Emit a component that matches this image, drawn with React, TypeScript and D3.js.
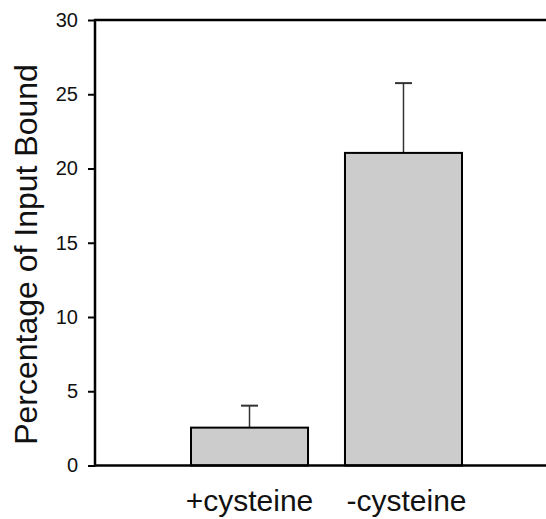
import { useEffect, useRef } from "react";
import * as d3 from "d3";

const categories = ["+cysteine", "-cysteine"];
const means = [2.55, 21.05];
const errors = [1.48, 4.7];
const yTicks = [0, 5, 10, 15, 20, 25, 30];

const width = 546;
const height = 519;
const margin = { top: 20, left: 95, bottom: 465.5 };

function App() {
    const yAxisRef = useRef<SVGGElement>(null);

    const yScale = d3.scaleLinear().domain([0, 30]).range([margin.bottom, margin.top]);
    const xScale = d3
        .scaleBand()
        .domain(categories)
        .range([191, 462])
        .paddingInner(0.24)
        .paddingOuter(0);

    useEffect(() => {
        // y axis with outer ticks only
        const yAxis = d3.axisLeft(yScale).tickValues(yTicks).tickSize(7).tickSizeOuter(0).tickPadding(10);
        const g = d3.select(yAxisRef.current).call(yAxis);
        g.select(".domain").remove();
        g.selectAll(".tick line").attr("stroke", "#000").attr("stroke-width", 2);
        g.selectAll(".tick text")
            .attr("font-family", "'Liberation Sans', Arial, sans-serif")
            .attr("font-size", 20)
            .attr("fill", "#111");
    }, []);

    const bw = xScale.bandwidth();

    return (
        <svg
            width={width}
            height={height}
            style={{ position: "absolute", left: 0, top: 0, background: "#fff" }}
        >
            <g ref={yAxisRef} transform={`translate(${margin.left},0)`}></g>

            {/* bars */}
            {categories.map((c, i) => {
                const x0 = xScale(c) as number;
                const cx = x0 + bw / 2;
                const top = yScale(means[i]);
                const errTop = yScale(means[i] + errors[i]);
                return (
                    <g key={c}>
                        <line x1={cx} x2={cx} y1={top} y2={errTop} stroke="#333" strokeWidth={1.5} />
                        <line x1={cx - 8.5} x2={cx + 8.5} y1={errTop} y2={errTop} stroke="#333" strokeWidth={2} />
                        <rect
                            x={x0}
                            y={top}
                            width={bw}
                            height={yScale(0) - top}
                            fill="#cccccc"
                            stroke="#000"
                            strokeWidth={2}
                        />
                        <text
                            x={cx + (i === 0 ? 0 : 3)}
                            y={511}
                            textAnchor="middle"
                            fontFamily="'Liberation Sans', Arial, sans-serif"
                            fontSize={30}
                            fill="#111"
                        >
                            {c}
                        </text>
                    </g>
                );
            })}

            {/* frame lines */}
            <line x1={margin.left} x2={margin.left} y1={yScale(30) - 1} y2={yScale(0) + 1} stroke="#000" strokeWidth={2.5} />
            <line x1={margin.left - 1} x2={width} y1={yScale(30)} y2={yScale(30)} stroke="#000" strokeWidth={2.5} />
            <line x1={margin.left} x2={width} y1={yScale(0)} y2={yScale(0)} stroke="#000" strokeWidth={2.5} />

            <text
                transform={`translate(37,${(64 + 445) / 2}) rotate(-90)`}
                textAnchor="middle"
                fontFamily="'Liberation Sans', Arial, sans-serif"
                fontSize={32}
                fill="#111"
            >
                Percentage of Input Bound
            </text>
        </svg>
    );
}

export default App;
